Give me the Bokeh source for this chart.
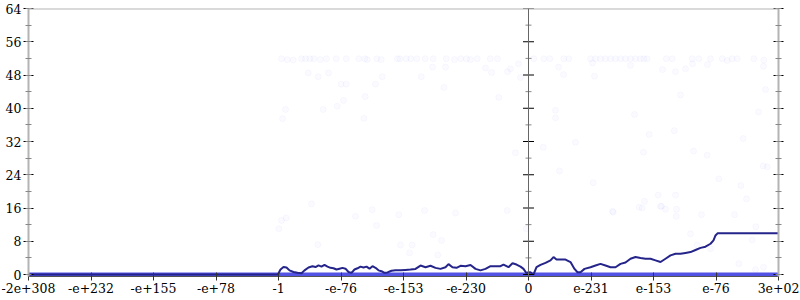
from bokeh.plotting import figure
from bokeh.models import Range1d, LinearAxis, FixedTicker, SingleIntervalTicker, Span
from bokeh.embed import file_html
from bokeh.resources import INLINE

# ---- data ----
x_tick_pos = [0, 1, 2, 3, 4, 5, 6, 7, 8, 9, 10, 11, 12]
x_tick_labels = ["-2e+308", "-e+232", "-e+155", "-e+78", "-1", "-e-76", "-e-153",
                 "-e-230", "0", "e-231", "e-153", "e-76", "3e+02"]
y_major = [0, 8, 16, 24, 32, 40, 48, 56, 64]
y_minor = [4, 12, 20, 28, 36, 44, 52, 60]

# average error line
avg_x = [0, 3.984, 4.0, 4.032, 4.08, 4.128, 4.176, 4.24, 4.304, 4.368, 4.416, 4.48, 4.544,
         4.592, 4.64, 4.688, 4.736, 4.784, 4.832, 4.88, 4.928, 4.976, 5.024, 5.072, 5.12,
         5.168, 5.216, 5.264, 5.312, 5.36, 5.408, 5.456, 5.504, 5.552, 5.6, 5.648, 5.696,
         5.744, 5.808, 5.872, 5.952, 6.032, 6.112, 6.192, 6.272, 6.352, 6.432, 6.512, 6.592,
         6.672, 6.72, 6.784, 6.848, 6.912, 6.992, 7.072, 7.152, 7.232, 7.312, 7.392, 7.472,
         7.552, 7.6, 7.68, 7.744, 7.808, 7.872, 7.92, 7.968, 7.984, 8.032, 8.08, 8.128,
         8.192, 8.272, 8.352, 8.4, 8.448, 8.512, 8.592, 8.672, 8.736, 8.784, 8.832, 8.896,
         8.992, 9.072, 9.152, 9.232, 9.312, 9.392, 9.472, 9.552, 9.632, 9.712, 9.792, 9.872,
         9.952, 10.032, 10.112, 10.192, 10.272, 10.352, 10.432, 10.512, 10.592, 10.672,
         10.752, 10.832, 10.912, 10.96, 10.992, 11.024, 12.0]
avg_y = [0, 0, 0.3, 1.2, 1.8, 1.7, 1.0, 0.6, 0.4, 0.3, 1.0, 1.7, 2.0,
         1.8, 2.2, 1.9, 2.3, 1.9, 1.6, 1.5, 1.2, 1.4, 1.6, 1.4, 0.6,
         0.4, 1.2, 1.5, 1.9, 1.7, 1.9, 1.4, 2.0, 1.6, 1.0, 0.8, 0.4,
         0.5, 0.9, 1.0, 1.0, 1.1, 1.2, 1.35, 2.15, 1.75, 2.1, 1.6, 1.35,
         1.75, 2.5, 1.75, 1.6, 2.1, 2.0, 2.3, 1.35, 1.0, 1.35, 2.0, 2.0,
         2.0, 2.4, 1.75, 2.7, 2.4, 1.9, 1.35, 0.3, 0.5, 0.55, 0.0, 1.75,
         2.3, 2.8, 3.4, 4.2, 3.6, 3.6, 3.6, 3.0, 1.35, 0.55, 0.55, 1.35,
         1.75, 2.15, 2.55, 2.15, 1.75, 1.75, 2.55, 2.9, 3.8, 4.2, 3.95, 3.8,
         3.8, 3.4, 3.0, 3.8, 4.6, 5.0, 5.0, 5.2, 5.4, 5.9,
         6.4, 6.7, 7.4, 8.2, 9.4, 9.9, 9.9]

# points with zero error (dense band along the bottom)
zero_x = [0, 12]
zero_y = [0, 0]

# individual sample errors (faint points)
pts_x = [4.048, 4.139, 4.235, 4.368, 4.432, 4.501, 4.565, 4.667, 4.768, 4.923, 5.083, 5.285,
         5.381, 5.419, 5.573, 5.643, 5.904, 5.941, 6.043, 6.117, 6.213, 6.347, 6.475, 6.683,
         6.816, 6.917, 7.008, 7.072, 7.179, 7.387, 7.504,
         8.085, 8.245, 8.341, 8.565, 8.645, 8.992, 9.072, 9.152, 9.232, 9.312, 9.392, 9.472,
         9.552, 9.632, 9.712, 9.792, 9.845, 9.899, 10.203, 10.299, 10.619, 10.725, 10.912,
         11.099, 11.179, 11.259, 11.339, 11.605, 11.765,
         4.475, 4.635, 4.8, 5.003, 5.083, 5.552, 5.659, 6.283, 6.464, 6.672, 6.645, 7.312,
         7.408, 7.525, 4.112, 4.715, 4.939, 5.04, 5.387, 4.064, 5.365, 7.664, 7.712, 7.84,
         7.872, 8.48, 8.56, 9.024, 9.056, 9.632, 10.144, 10.352, 10.512, 10.624, 10.864,
         10.432, 11.76, 11.792, 8.432, 8.432, 9.696, 11.68, 7.792, 8.235, 8.752, 8.496,
         9.035, 7.659, 9.344, 9.771, 9.819, 9.856, 10.075, 10.112, 10.192, 10.352, 10.368,
         10.363, 9.931, 10.331, 9.84, 10.64, 10.859, 11.045, 11.397, 11.488, 11.296, 10.768,
         11.435, 11.755, 11.819, 11.637, 10.592, 7.963, 4.528, 5.232, 5.499, 5.568, 5.925,
         4.123, 4.048, 4.005, 4.629, 6.336, 6.832, 6.475, 6.608, 6.139, 6.096, 6.549, 5.952,
         10.128, 11.579, 10.699, 11.632, 11.76, 11.365, 10.912, 9.355]
pts_y = [51.9, 51.7, 51.6, 51.9, 51.9, 51.9, 51.9, 51.7, 51.9, 51.9, 51.9, 51.9,
         51.9, 51.7, 51.9, 51.7, 51.9, 51.9, 51.9, 51.9, 51.9, 51.9, 51.9, 51.9,
         51.7, 51.9, 51.9, 51.7, 51.9, 51.9, 51.9,
         51.9, 51.9, 51.9, 51.9, 51.9, 51.9, 51.9, 51.9, 51.9, 51.9, 51.9, 51.9,
         51.9, 51.9, 51.9, 51.9, 51.9, 51.9, 51.9, 51.9, 51.9, 51.9, 51.9,
         51.9, 51.5, 51.9, 51.9, 51.9, 51.6,
         48.5, 47.6, 48.5, 45.8, 45.8, 45.8, 47.6, 47.6, 49.9, 49.9, 45.0, 49.7,
         48.6, 42.6, 39.7, 39.7, 40.5, 41.9, 42.8, 37.5, 37.6, 48.8, 49.5, 50.7,
         47.4, 49.9, 48.1, 50.9, 47.7, 50.3, 49.3, 48.8, 49.5, 50.7, 50.5,
         43.2, 50.1, 44.5, 39.5, 37.7, 38.5, 39.1, 29.3, 30.6, 31.8, 24.9,
         22.1, 15.4, 15.2, 16.2, 16.0, 17.6, 19.1, 16.4, 15.7, 19.1, 15.7,
         14.0, 33.7, 34.6, 29.4, 29.7, 28.7, 23.0, 21.4, 18.2, 14.4, 14.4,
         32.7, 26.1, 25.9, 11.5, 9.8, 11.0, 17.0, 14.0, 15.6, 11.8, 14.4,
         13.6, 13.0, 11.0, 7.2, 15.4, 14.8, 9.6, 8.2, 7.1, 5.2, 4.7, 7.1,
         16.4, 8.3, 7.1, 1.2, 1.75, 2.6, 6.2, 15.0]

FONT = "DejaVu Serif"
FS = "12.5px"

p = figure(width=800, height=300, output_backend="svg", toolbar_location=None,
           x_range=Range1d(0, 12), y_range=Range1d(-0.48, 64),
           min_border_left=28, min_border_right=22, min_border_top=8, min_border_bottom=24,
           x_axis_location=None, y_axis_location=None)
p.outline_line_color = None
p.xgrid.visible = False
p.ygrid.visible = False
p.background_fill_color = "white"

# faint sample points
p.scatter(pts_x, pts_y, size=6, fill_color="#0000ff", fill_alpha=0.015,
          line_color="#0000ff", line_alpha=0.03)
# zero band
p.line(zero_x, zero_y, line_color="#3434e0", line_width=4, line_alpha=0.85)
# average line
p.line(avg_x, avg_y, line_color="#24248a", line_width=2)

# left axis
yl = LinearAxis(ticker=SingleIntervalTicker(interval=8, num_minor_ticks=2))
yl.axis_line_color = "#b4b4b4"
yl.axis_line_width = 2
yl.major_tick_line_color = "black"
yl.major_tick_in = 5
yl.major_tick_out = 5
yl.minor_tick_line_color = "#888888"
yl.minor_tick_in = 3
yl.minor_tick_out = 3
yl.major_label_text_font = FONT
yl.major_label_text_font_size = FS
yl.major_label_text_color = "black"
yl.major_label_standoff = 2
p.add_layout(yl, "left")

# right axis (no labels)
yr = LinearAxis(ticker=SingleIntervalTicker(interval=8, num_minor_ticks=2))
yr.axis_line_color = "#b4b4b4"
yr.axis_line_width = 2
yr.major_tick_line_color = "black"
yr.major_tick_in = 5
yr.major_tick_out = 5
yr.minor_tick_line_color = "#888888"
yr.minor_tick_in = 3
yr.minor_tick_out = 3
yr.major_label_overrides = {v: "" for v in y_major}
yr.major_label_standoff = 0
p.add_layout(yr, "right")

# bottom axis
xb = LinearAxis(ticker=FixedTicker(ticks=x_tick_pos, minor_ticks=[]))
xb.major_label_overrides = {pos: lab for pos, lab in zip(x_tick_pos, x_tick_labels)}
xb.axis_line_color = "#555555"
xb.major_tick_line_color = "#333333"
xb.major_tick_in = 4
xb.major_tick_out = 4
xb.minor_tick_line_color = None
xb.major_label_text_font = FONT
xb.major_label_text_font_size = FS
xb.major_label_text_color = "black"
xb.major_label_standoff = 2
p.add_layout(xb, "below")

# top border
p.add_layout(Span(location=64, dimension="width", line_color="#b4b4b4", line_width=2))

# middle axis at 0
p.add_layout(Span(location=8, dimension="height", line_color="#666666", line_width=1))
p.scatter([8] * len(y_major), y_major, marker="dash", size=11, line_color="black", line_width=1)
p.scatter([8] * len(y_minor), y_minor, marker="dash", size=6, line_color="#888888", line_width=1)

open("out.html", "w").write(file_html(p, INLINE))
